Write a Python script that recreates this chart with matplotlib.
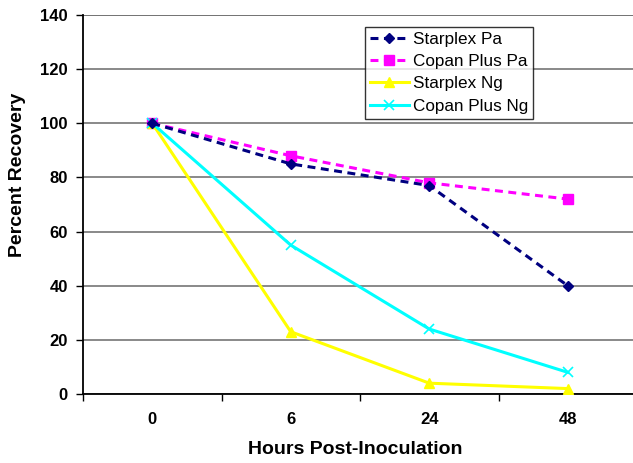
import matplotlib
matplotlib.use("Agg")
import matplotlib.pyplot as plt

categories = ["0", "6", "24", "48"]
starplex_pa = [100, 85, 77, 40]
copan_pa = [100, 88, 78, 72]
starplex_ng = [100, 23, 4, 2]
copan_ng = [100, 55, 24, 8]
yticks = [0, 20, 40, 60, 80, 100, 120, 140]

plt.rcParams['font.family'] = ['Liberation Sans', 'DejaVu Sans']

fig = plt.figure(figsize=(6.33, 4.63), dpi=100)
W, H = 633, 463
left, right, top, bottom = 83, 637, 15, 394
ax = fig.add_axes([left / W, (H - bottom) / H, (right - left) / W, (bottom - top) / H])

x = list(range(len(categories)))
dash = (0, (2.6, 1.8))
ax.plot(x, starplex_pa, color='#000080', ls=dash, lw=2.2, marker='D', ms=5.5,
        label='Starplex Pa', zorder=4)
ax.plot(x, copan_pa, color='#FF00FF', ls=dash, lw=2.2, marker='s', ms=6.5,
        label='Copan Plus Pa', zorder=3)
ax.plot(x, starplex_ng, color='#FFFF00', ls='-', lw=2.2, marker='^', ms=7,
        label='Starplex Ng', zorder=3)
ax.plot(x, copan_ng, color='#00FFFF', ls='-', lw=2.2, marker='x', ms=6.5, mew=1.2,
        label='Copan Plus Ng', zorder=3)

ax.set_xlim(-0.5, len(categories) - 0.5)
ax.set_ylim(0, 140)
ax.set_yticks(yticks)
ax.set_yticklabels([str(v) for v in yticks], fontsize=12, fontweight='bold')
ax.set_xticks(x)
ax.set_xticklabels(categories, fontsize=12, fontweight='bold')
ax.tick_params(axis='x', length=0, pad=13)
ax.set_xticks([i + 0.5 for i in range(-1, len(categories))], minor=True)
ax.tick_params(axis='x', which='minor', length=5, direction='out', width=1)
ax.tick_params(axis='y', length=5, direction='out', width=1, pad=6)

ax.grid(axis='y', color='#808080', lw=1.3, zorder=0)
for s in ['top', 'right']:
    ax.spines[s].set_visible(False)
ax.spines['left'].set_linewidth(1.3)
ax.spines['bottom'].set_linewidth(1.3)
ax.axhline(140, color='black', lw=1.3, zorder=1)

fig.text(17.5 / W, 1 - 175 / H, 'Percent Recovery', fontsize=14, fontweight='bold',
         rotation=90, ha='center', va='center')
fig.text(355 / W, 1 - 449 / H, 'Hours Post-Inoculation', fontsize=14, fontweight='bold',
         ha='center', va='center')

leg = ax.legend(loc='upper left', bbox_to_anchor=((365 - left) / (right - left), 1 - (27 - top) / (bottom - top)),
                prop={'size': 12.3}, frameon=True, fancybox=False, edgecolor='black',
                borderpad=0.3, labelspacing=0.42, handlelength=2.25, handletextpad=0.25,
                borderaxespad=0)
leg.get_frame().set_linewidth(1.0)

fig.savefig('out.png', dpi=100)
